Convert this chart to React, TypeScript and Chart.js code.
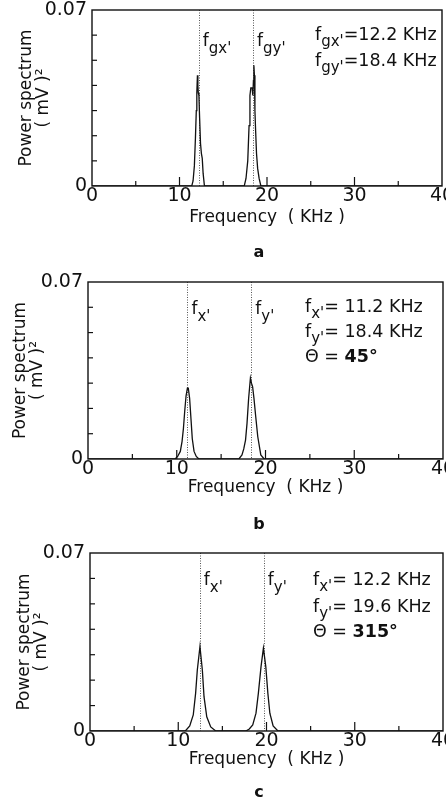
import { useEffect, useRef } from 'react';
import { Chart, registerables } from 'chart.js';
Chart.register(...registerables);

// ---------- data ----------
const xTickValues = [0, 10, 20, 30, 40];
const yTickLabels = ['0', '0.07'];

const freqA = [0, 11.4, 11.55, 11.7, 11.82, 11.92, 11.98, 12.05, 12.1, 12.15, 12.22, 12.3, 12.4, 12.5, 12.6, 12.7, 12.85, 17.4, 17.6, 17.8, 17.95, 18.05, 18.15, 18.3, 18.38, 18.45, 18.5, 18.56, 18.62, 18.7, 18.8, 18.93, 19.1, 19.3, 40];
const powerA = [0, 0, 0.002, 0.008, 0.019, 0.03, 0.037, 0.044, 0.04, 0.037, 0.036, 0.027, 0.017, 0.013, 0.011, 0.005, 0, 0, 0.003, 0.01, 0.024, 0.036, 0.039, 0.039, 0.036, 0.042, 0.048, 0.044, 0.03, 0.022, 0.013, 0.007, 0.003, 0, 0];
const markersA = [12.2, 18.4];

const freqB = [0, 9.8, 10.1, 10.4, 10.6, 10.75, 10.9, 11.05, 11.2, 11.3, 11.45, 11.6, 11.75, 11.95, 12.2, 12.5, 17.0, 17.35, 17.55, 17.75, 17.92, 18.1, 18.3, 18.42, 18.55, 18.7, 18.9, 19.13, 19.47, 19.85, 40];
const powerB = [0, 0, 0.001, 0.003, 0.007, 0.012, 0.019, 0.025, 0.028, 0.028, 0.024, 0.016, 0.008, 0.003, 0.001, 0, 0, 0.0016, 0.004, 0.0075, 0.0142, 0.024, 0.032, 0.03, 0.0285, 0.024, 0.0167, 0.0088, 0.0016, 0, 0];
const markersB = [11.2, 18.4];

const freqC = [0, 10.8, 11.3, 11.7, 11.97, 12.16, 12.46, 12.73, 12.92, 13.23, 13.68, 14.25, 17.67, 18.05, 18.44, 18.81, 19.08, 19.38, 19.65, 19.92, 20.15, 20.38, 20.75, 21.3, 40];
const powerC = [0, 0, 0.002, 0.0063, 0.0149, 0.024, 0.0332, 0.024, 0.0135, 0.0056, 0.0016, 0, 0, 0.0008, 0.0024, 0.007, 0.0149, 0.0253, 0.0326, 0.0253, 0.015, 0.007, 0.002, 0, 0];
const markersC = [12.45, 19.7];

const FONT = '"DejaVu Sans", sans-serif';

type Seg = { t: string; sub?: boolean; bold?: boolean };

type PanelCfg = {
  top: number; h: number; l: number; r: number; t: number; b: number;
  yTitleX: number; xTitleY: number; letter: string; letterY: number;
  freq: number[]; power: number[]; markers: number[];
  markerLabels: Seg[][]; markerLabelY: number;
  legend: Seg[][]; legendX: number; legendY: number[];
};

const panels: PanelCfg[] = [
  {
    top: 0, h: 268, l: 92, r: 442, t: 10, b: 186, yTitleX: 27, xTitleY: 218, letter: 'a', letterY: 253,
    freq: freqA, power: powerA, markers: markersA,
    markerLabels: [[{ t: 'f' }, { t: "gx'", sub: true }], [{ t: 'f' }, { t: "gy'", sub: true }]], markerLabelY: 42,
    legend: [
      [{ t: 'f' }, { t: "gx'", sub: true }, { t: '=12.2 KHz' }],
      [{ t: 'f' }, { t: "gy'", sub: true }, { t: '=18.4 KHz' }],
    ],
    legendX: 315, legendY: [35, 61],
  },
  {
    top: 268, h: 268, l: 88, r: 443, t: 14, b: 191, yTitleX: 21, xTitleY: 220, letter: 'b', letterY: 257,
    freq: freqB, power: powerB, markers: markersB,
    markerLabels: [[{ t: 'f' }, { t: "x'", sub: true }], [{ t: 'f' }, { t: "y'", sub: true }]], markerLabelY: 42,
    legend: [
      [{ t: 'f' }, { t: "x'", sub: true }, { t: '= 11.2 KHz' }],
      [{ t: 'f' }, { t: "y'", sub: true }, { t: '= 18.4 KHz' }],
      [{ t: 'Θ = ' }, { t: '45°', bold: true }],
    ],
    legendX: 305, legendY: [39, 64, 89],
  },
  {
    top: 536, h: 267, l: 90, r: 443, t: 17, b: 195, yTitleX: 25, xTitleY: 224, letter: 'c', letterY: 257,
    freq: freqC, power: powerC, markers: markersC,
    markerLabels: [[{ t: 'f' }, { t: "x'", sub: true }], [{ t: 'f' }, { t: "y'", sub: true }]], markerLabelY: 45,
    legend: [
      [{ t: 'f' }, { t: "x'", sub: true }, { t: '= 12.2 KHz' }],
      [{ t: 'f' }, { t: "y'", sub: true }, { t: '= 19.6 KHz' }],
      [{ t: 'Θ = ' }, { t: '315°', bold: true }],
    ],
    legendX: 313, legendY: [44, 71, 96],
  },
];

function drawRich(ctx: CanvasRenderingContext2D, segs: Seg[], x: number, y: number, size: number) {
  let cx = x;
  for (const s of segs) {
    const fs = s.sub ? Math.round(size * 0.88) : size;
    ctx.font = `${s.bold ? 'bold ' : ''}${fs}px ${FONT}`;
    ctx.textBaseline = 'middle';
    ctx.textAlign = 'left';
    const dy = s.sub ? size * 0.42 : 0;
    ctx.fillText(s.t, cx, y + dy);
    cx += ctx.measureText(s.t).width;
  }
}

function Panel({ cfg }: { cfg: PanelCfg }) {
  const ref = useRef<HTMLCanvasElement | null>(null);
  useEffect(() => {
    if (!ref.current) return;
    const decor = {
      id: 'decor',
      beforeDatasetsDraw(chart: any) {
        const { ctx, chartArea: a, scales } = chart;
        ctx.save();
        ctx.strokeStyle = '#555';
        ctx.lineWidth = 1;
        ctx.setLineDash([1, 1.5]);
        cfg.markers.forEach((m) => {
          const px = Math.round(scales.x.getPixelForValue(m)) + 0.5;
          ctx.beginPath();
          ctx.moveTo(px, a.top);
          ctx.lineTo(px, a.bottom);
          ctx.stroke();
        });
        ctx.restore();
      },
      afterDraw(chart: any) {
        const { ctx, chartArea: a, scales } = chart;
        ctx.save();
        ctx.strokeStyle = '#111';
        ctx.lineWidth = 1.4;
        ctx.strokeRect(a.left, a.top, a.right - a.left, a.bottom - a.top);
        ctx.lineWidth = 1.2;
        // x ticks (inward)
        scales.x.ticks.forEach((tk: any) => {
          const v = tk.value;
          if (v <= 0 || v >= 40) return;
          const px = scales.x.getPixelForValue(v);
          const len = v % 10 === 0 ? 9 : 5;
          ctx.beginPath();
          ctx.moveTo(px, a.bottom);
          ctx.lineTo(px, a.bottom - len);
          ctx.stroke();
        });
        // y ticks (inward)
        scales.y.ticks.forEach((tk: any) => {
          const v = tk.value;
          if (v <= 0.0001 || v >= 0.0699) return;
          const py = scales.y.getPixelForValue(v);
          ctx.beginPath();
          ctx.moveTo(a.left, py);
          ctx.lineTo(a.left + 5, py);
          ctx.stroke();
        });
        ctx.fillStyle = '#111';
        // marker labels
        cfg.markers.forEach((m, i) => {
          const px = scales.x.getPixelForValue(m);
          drawRich(ctx, cfg.markerLabels[i], px + 4, cfg.markerLabelY, 17);
        });
        // legend text
        cfg.legend.forEach((line, i) => drawRich(ctx, line, cfg.legendX, cfg.legendY[i], 17.5));
        // panel letter
        ctx.font = `bold 16px ${FONT}`;
        ctx.textAlign = 'center';
        ctx.textBaseline = 'middle';
        ctx.fillText(cfg.letter, 259, cfg.letterY);
        ctx.restore();
      },
    };
    const chart = new Chart(ref.current, {
      type: 'line',
      data: {
        datasets: [
          {
            data: cfg.freq.map((f, i) => ({ x: f, y: cfg.power[i] })),
            borderColor: '#111',
            borderWidth: 1.3,
            pointRadius: 0,
            tension: 0,
            fill: false,
          },
        ],
      },
      options: {
        animation: false,
        responsive: false,
        devicePixelRatio: 1,
        events: [],
        layout: { padding: { left: 0, right: 446 - cfg.r, top: cfg.t, bottom: 0 } },
        plugins: { legend: { display: false }, tooltip: { enabled: false } },
        scales: {
          x: {
            type: 'linear',
            min: 0,
            max: 40,
            grid: { display: false, drawTicks: false },
            border: { display: false },
            ticks: {
              stepSize: 5,
              padding: 1,
              color: '#111',
              font: { family: FONT, size: 19, lineHeight: 1 },
              maxRotation: 0,
              autoSkip: false,
              callback: (v: any) => (xTickValues.includes(Number(v)) ? String(v) : ''),
            },
            title: {
              display: true,
              text: 'Frequency  ( KHz )',
              color: '#111',
              font: { family: FONT, size: 17, lineHeight: 1.2 },
              padding: { top: 0, bottom: cfg.h - cfg.xTitleY - 10.2 },
            },
            afterFit: (s: any) => {
              s.height = cfg.h - cfg.b;
              s.paddingLeft = 0;
              s.paddingRight = 0;
              s.paddingTop = 0;
              s.paddingBottom = 0;
            },
          },
          y: {
            type: 'linear',
            min: 0,
            max: 0.07,
            grid: { display: false, drawTicks: false },
            border: { display: false },
            ticks: {
              stepSize: 0.01,
              padding: 5,
              color: '#111',
              autoSkip: false,
              font: { family: FONT, size: 19, lineHeight: 1 },
              callback: (v: any) => {
                const n = Number(v);
                if (Math.abs(n) < 1e-9) return yTickLabels[0];
                if (Math.abs(n - 0.07) < 1e-9) return yTickLabels[1];
                return '';
              },
            },
            title: {
              display: true,
              text: ['Power spectrum', '( mV )²'],
              color: '#111',
              font: { family: FONT, size: 17, lineHeight: 0.95 },
              padding: { top: cfg.yTitleX - 8, bottom: 0 },
            },
            afterFit: (s: any) => {
              s.width = cfg.l;
              s.paddingLeft = 0;
              s.paddingRight = 0;
              s.paddingTop = 0;
              s.paddingBottom = 0;
            },
          },
        },
      },
      plugins: [decor],
    } as any);
    return () => chart.destroy();
  }, [cfg]);
  return (
    <canvas
      ref={ref}
      width={446}
      height={cfg.h}
      style={{ position: 'absolute', left: 0, top: cfg.top, width: 446, height: cfg.h, display: 'block' }}
    />
  );
}

export default function App() {
  return (
    <div style={{ position: 'absolute', left: 0, top: 0, width: 446, height: 803, background: '#fff', overflow: 'hidden' }}>
      {panels.map((p) => (
        <Panel key={p.letter} cfg={p} />
      ))}
    </div>
  );
}
